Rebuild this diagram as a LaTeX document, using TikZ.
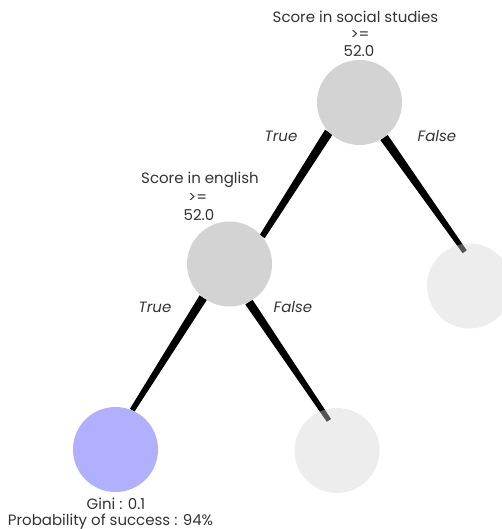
\documentclass[tikz,border=0pt]{standalone}
\usepackage{fontspec}
\setmainfont{Poppins}
\usetikzlibrary{calc,backgrounds}
\definecolor{splitgray}{HTML}{D3D3D3}
\definecolor{leafblue}{HTML}{B0B0FF}
\definecolor{txt}{HTML}{333333}
\tikzset{
  split/.style={circle,fill=splitgray,minimum size=85pt,inner sep=0pt},
  leafg/.style={circle,fill=splitgray,fill opacity=0.4,minimum size=85pt,inner sep=0pt},
  leafb/.style={circle,fill=leafblue,minimum size=85pt,inner sep=0pt},
  lbl/.style={text=txt,font=\fontsize{15}{17}\selectfont,inner sep=0pt,anchor=base},
  br/.style={text=txt,font=\fontsize{15}{17}\selectfont\itshape,inner sep=0pt,anchor=base},
}
\newcommand\taperedge[4]{%
  \fill[black] ($(#1)!#3!90:(#2)$) -- ($(#1)!#3!-90:(#2)$)
     -- ($(#2)!#4!90:(#1)$) -- ($(#2)!#4!-90:(#1)$) -- cycle;}
\begin{document}
\begin{tikzpicture}[x=1pt,y=-1pt]
\useasboundingbox (0,0) rectangle (502,529);
% nodes
\node[split] (root) at (359.5,102.5) {};
\node[split] (eng) at (229.5,264) {};
\node[leafg] (rleaf) at (469.5,286) {};
\node[leafb] (bleaf) at (115.5,449.5) {};
\node[leafg] (gleaf) at (337,450.5) {};
\coordinate (rtip) at ($(rleaf.center)!0.81!(rleaf.98)$);
\coordinate (gtip) at ($(gleaf.center)!0.73!(gleaf.105)$);
% edges
\begin{scope}[on background layer]
  \taperedge{root.224}{eng.40}{4.5pt}{3pt}
  \taperedge{root.305}{rtip}{4.5pt}{2.5pt}
  \taperedge{eng.232}{bleaf.67}{4.3pt}{2.7pt}
  \taperedge{eng.297}{gtip}{4.3pt}{2.5pt}
\end{scope}
% labels
\node[lbl] (r1) at (355.5,23) {Score in social studies};
\node[lbl] (r2) at (360,40) {>=};
\node[lbl] (r3) at (359,57) {52.0};
\node[lbl] (e1) at (200,184) {Score in english};
\node[lbl] (e2) at (197.7,202) {>=};
\node[lbl] (e3) at (199,220) {52.0};
\node[br] (t1) at (281,142) {True};
\node[br] (f1) at (437,142) {False};
\node[br] (t2) at (155,312) {True};
\node[br] (f2) at (293,312) {False};
\node[lbl] (g1) at (116,509) {Gini : 0.1};
\node[lbl] (g2) at (110.5,525) {Probability of success : 94\%};
\end{tikzpicture}
\end{document}
